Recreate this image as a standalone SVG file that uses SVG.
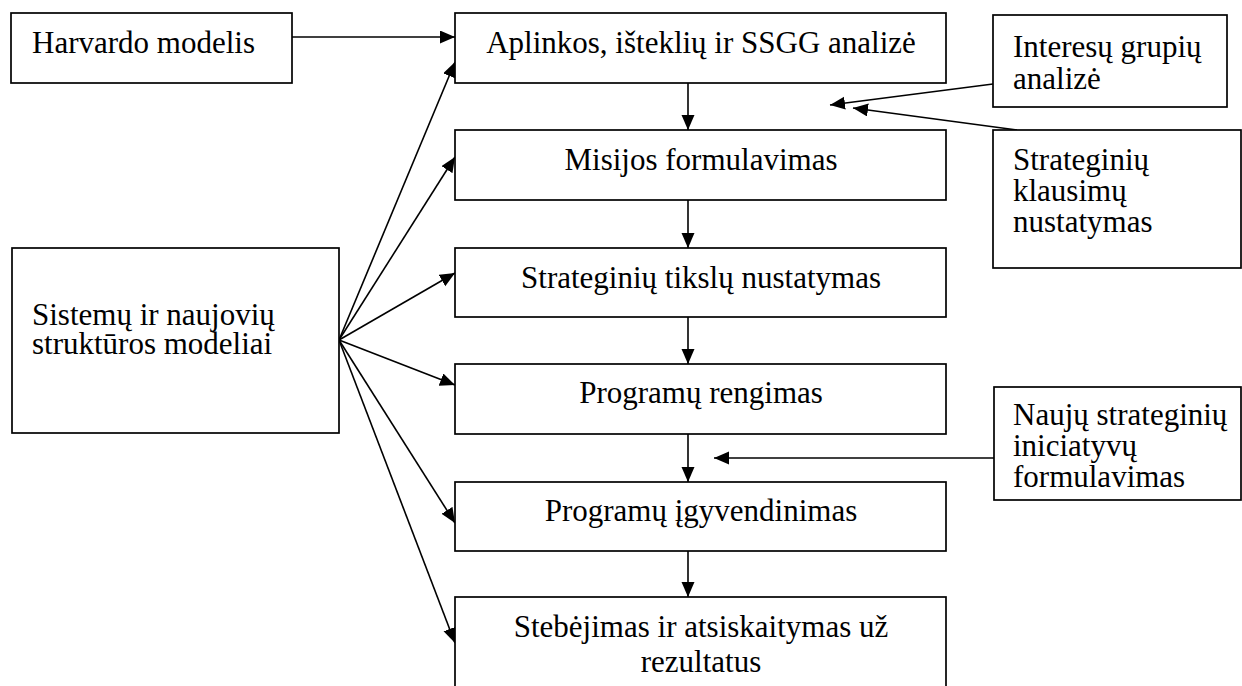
<svg xmlns="http://www.w3.org/2000/svg" width="1242" height="686" viewBox="0 0 1242 686">
  <defs>
    <style>
      .box { fill: #ffffff; stroke: #000000; stroke-width: 1.7; }
      .t { font-size: 31px; fill: #000000; }
      .c { text-anchor: middle; }
      .ln { fill: none; stroke: #000000; stroke-width: 1.6; marker-end: url(#ah); }
    </style>
    <marker id="ah" markerUnits="userSpaceOnUse" markerWidth="16" markerHeight="14" refX="15" refY="6.5" orient="auto">
      <path d="M0,0 L15,6.5 L0,13 z" fill="#000000"/>
    </marker>
  </defs>
  <rect width="1242" height="686" fill="#ffffff"/>

  <g id="connectors">
    <line class="ln" x1="292" y1="37" x2="455" y2="37"/>
    <line class="ln" x1="339" y1="340" x2="455" y2="62"/>
    <line class="ln" x1="339" y1="340" x2="455" y2="157"/>
    <line class="ln" x1="339" y1="340" x2="455" y2="273"/>
    <line class="ln" x1="339" y1="340" x2="455" y2="385"/>
    <line class="ln" x1="339" y1="340" x2="455" y2="523"/>
    <line class="ln" x1="339" y1="340" x2="455" y2="643"/>
    <line class="ln" x1="688" y1="83" x2="688" y2="130"/>
    <line class="ln" x1="688" y1="200" x2="688" y2="248"/>
    <line class="ln" x1="688" y1="317" x2="688" y2="364"/>
    <line class="ln" x1="688" y1="434" x2="688" y2="482"/>
    <line class="ln" x1="688" y1="551" x2="688" y2="597"/>
    <line class="ln" x1="993" y1="84" x2="830" y2="105"/>
    <line class="ln" x1="1017" y1="130" x2="853" y2="108"/>
    <line class="ln" x1="994" y1="458" x2="714" y2="458"/>
  </g>

  <g font-family="'Liberation Serif', 'DejaVu Serif', serif">
  <g id="harvardo">
    <rect class="box" x="11" y="13" width="281" height="70"/>
    <text class="t" x="32" y="53">Harvardo modelis</text>
  </g>

  <g id="sistemu">
    <rect class="box" x="12" y="248" width="327" height="185"/>
    <text class="t" x="32" y="325">Sistemų ir naujovių</text>
    <text class="t" x="32" y="354">struktūros modeliai</text>
  </g>

  <g id="aplinkos">
    <rect class="box" x="455" y="13" width="491" height="70"/>
    <text class="t c" x="701" y="53">Aplinkos, išteklių ir SSGG analizė</text>
  </g>

  <g id="misijos">
    <rect class="box" x="455" y="130" width="491" height="70"/>
    <text class="t c" x="701" y="170">Misijos formulavimas</text>
  </g>

  <g id="tikslu">
    <rect class="box" x="455" y="248" width="491" height="69"/>
    <text class="t c" x="701" y="288">Strateginių tikslų nustatymas</text>
  </g>

  <g id="rengimas">
    <rect class="box" x="455" y="364" width="491" height="70"/>
    <text class="t c" x="701" y="403">Programų rengimas</text>
  </g>

  <g id="igyvendinimas">
    <rect class="box" x="455" y="482" width="491" height="69"/>
    <text class="t c" x="701" y="521">Programų įgyvendinimas</text>
  </g>

  <g id="stebejimas">
    <rect class="box" x="455" y="597" width="491" height="120"/>
    <text class="t c" x="701" y="637">Stebėjimas ir atsiskaitymas už</text>
    <text class="t c" x="701" y="672">rezultatus</text>
  </g>

  <g id="interesu">
    <rect class="box" x="993" y="15" width="234" height="92"/>
    <text class="t" x="1013" y="57">Interesų grupių</text>
    <text class="t" x="1013" y="89">analizė</text>
  </g>

  <g id="klausimu">
    <rect class="box" x="993" y="130" width="248" height="138"/>
    <text class="t" x="1013" y="170">Strateginių</text>
    <text class="t" x="1013" y="201">klausimų</text>
    <text class="t" x="1013" y="232">nustatymas</text>
  </g>

  <g id="nauju">
    <rect class="box" x="994" y="387" width="247" height="113"/>
    <text class="t" x="1013" y="425">Naujų strateginių</text>
    <text class="t" x="1013" y="456">iniciatyvų</text>
    <text class="t" x="1013" y="487">formulavimas</text>
  </g>
  </g>
</svg>
